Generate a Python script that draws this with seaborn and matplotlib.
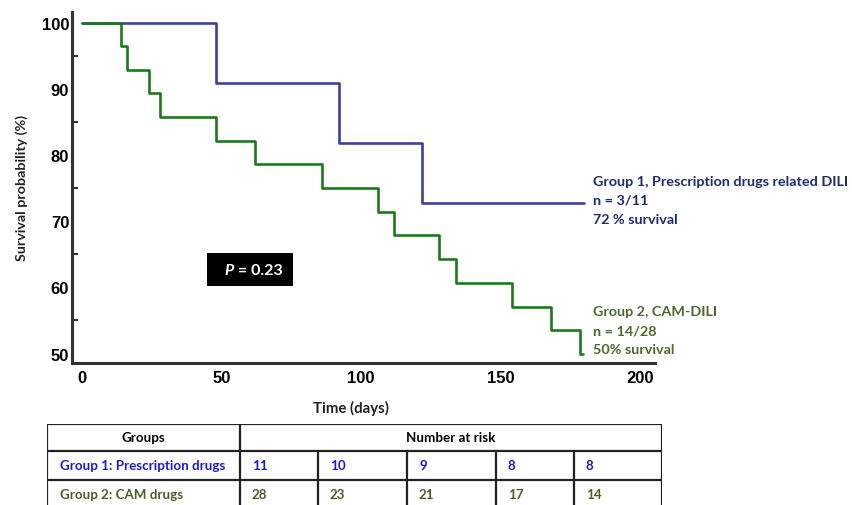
import matplotlib.pyplot as plt
import matplotlib.patches as mpatches
import seaborn as sns
import pandas as pd

# Kaplan-Meier steps
g1_days = [0, 48, 92, 122, 180]
g1_surv = [100, 90.9, 81.8, 72.7, 72.7]
g2_days = [0, 14, 16, 24, 28, 48, 62, 86, 106, 112, 128, 134, 154, 168, 178.5, 179.5]
g2_surv = [100, 96.4, 92.9, 89.3, 85.7, 82.1, 78.6, 75.0, 71.4, 67.9, 64.3, 60.7, 57.1, 53.6, 50.0, 50.0]

g1_note = ["Group 1, Prescription drugs related DILI", "n = 3/11", "72 % survival"]
g2_note = ["Group 2, CAM-DILI", "n = 14/28", "50% survival"]
p_label = "P"
p_value = " = 0.23"

table_groups = ["Group 1: Prescription drugs", "Group 2: CAM drugs"]
g1_risk = [11, 10, 9, 8, 8]
g2_risk = [28, 23, 21, 17, 14]

BLUE_LINE = "#3f3f9f"
GREEN_LINE = "#1c7a1c"
BLUE_TXT = "#1f2a70"
GREEN_TXT = "#4c6a2c"
BLUE_TAB = "#1a1acc"
GREEN_TAB = "#4a5e25"
AX_COL = "#333333"

W, H = 852, 506
LABEL_FONT = ["Lato", "DejaVu Sans"]

sns.set_theme(style="white")
plt.rcParams["font.family"] = ["Liberation Sans", "DejaVu Sans"]

fig = plt.figure(figsize=(W / 100, H / 100), dpi=100)
ax = fig.add_axes([72 / W, 1 - 364 / H, 583 / W, 351 / H])

df = pd.concat([
    pd.DataFrame({"days": g1_days, "surv": g1_surv, "group": "g1"}),
    pd.DataFrame({"days": g2_days, "surv": g2_surv, "group": "g2"}),
])
sns.lineplot(data=df, x="days", y="surv", hue="group", estimator=None, sort=False,
             palette={"g1": BLUE_LINE, "g2": GREEN_LINE}, drawstyle="steps-post",
             linewidth=1.9, legend=False, ax=ax)

ax.set_xlim(-3.6, 205.4)
ax.set_ylim(48.57, 101.6)
ax.set_xticks([0, 50, 100, 150, 200])
ax.set_yticks([50, 60, 70, 80, 90, 100])
ax.set_yticks([55, 65, 75, 85, 95], minor=True)
ax.tick_params(axis="both", which="major", direction="in", length=7.5, width=2,
               color=AX_COL, labelsize=12, labelcolor="black")
ax.tick_params(axis="y", which="minor", direction="in", length=4.5, width=1.5,
               color=AX_COL, left=True)
ax.tick_params(axis="y", pad=2)
ax.tick_params(axis="x", pad=5)
for lab in ax.get_xticklabels() + ax.get_yticklabels():
    lab.set_fontweight("bold")
for side in ["top", "right"]:
    ax.spines[side].set_visible(False)
for side in ["left", "bottom"]:
    ax.spines[side].set_linewidth(2.2)
    ax.spines[side].set_color(AX_COL)
ax.set_xlabel("Time (days)", fontsize=10.8, fontweight="bold", family=LABEL_FONT,
              color="#222222", labelpad=11)
ax.set_ylabel("Survival probability (%)", fontsize=10.3, fontweight="bold", family=LABEL_FONT,
              color="#222222", labelpad=10)
ax.xaxis.label.set_position((0.479, 0))

# group annotations
for i, line in enumerate(g1_note):
    fig.text(593 / W, 1 - (182 + 19 * i) / H, line, color=BLUE_TXT, fontsize=10.4,
             fontweight="bold", family=LABEL_FONT, va="center", ha="left")
for i, line in enumerate(g2_note):
    fig.text(593 / W, 1 - (312 + 19 * i) / H, line, color=GREEN_TXT, fontsize=10.4,
             fontweight="bold", family=LABEL_FONT, va="center", ha="left")

# P value box
fig.patches.append(mpatches.Rectangle((207 / W, 1 - 287 / H), 86 / W, 33 / H,
                                      transform=fig.transFigure, facecolor="black",
                                      edgecolor="none"))
fig.text(224 / W, 1 - 271 / H, p_label, color="white", fontsize=11.5, fontweight="bold",
         style="italic", family=LABEL_FONT, ha="left", va="center")
fig.text(234 / W, 1 - 271 / H, p_value, color="white", fontsize=11.5, fontweight="bold",
         family=LABEL_FONT, ha="left", va="center")

# number at risk table, drawn in pixel coordinates
tax = fig.add_axes([47 / W, 1 - 510 / H, 615 / W, 85 / H])
tax.set_xlim(47, 662)
tax.set_ylim(510, 425)
tax.axis("off")
lk = dict(color="#222222", linewidth=1.6, solid_capstyle="projecting")
for yy in [425, 452, 481, 510]:
    tax.plot([47, 662], [yy, yy], **lk)
for xx in [47, 240, 662]:
    tax.plot([xx, xx], [425, 510], **lk)
col_edges = [240, 318, 407, 496, 574]
for xx in col_edges[1:]:
    tax.plot([xx, xx], [452, 510], **lk)

tfont = dict(fontsize=9.6, fontweight="bold", family=LABEL_FONT, va="center")
tax.text(143, 438.5, "Groups", ha="center", color="black", **tfont)
tax.text(451, 438.5, "Number at risk", ha="center", color="black", **tfont)
tax.text(60, 466.5, table_groups[0], ha="left", color=BLUE_TAB, **tfont)
tax.text(60, 495.5, table_groups[1], ha="left", color=GREEN_TAB, **tfont)
for xx, v1, v2 in zip(col_edges, g1_risk, g2_risk):
    tax.text(xx + 12, 466.5, str(v1), ha="left", color=BLUE_TAB, **tfont)
    tax.text(xx + 12, 495.5, str(v2), ha="left", color=GREEN_TAB, **tfont)

fig.savefig("out.png", dpi=100)
